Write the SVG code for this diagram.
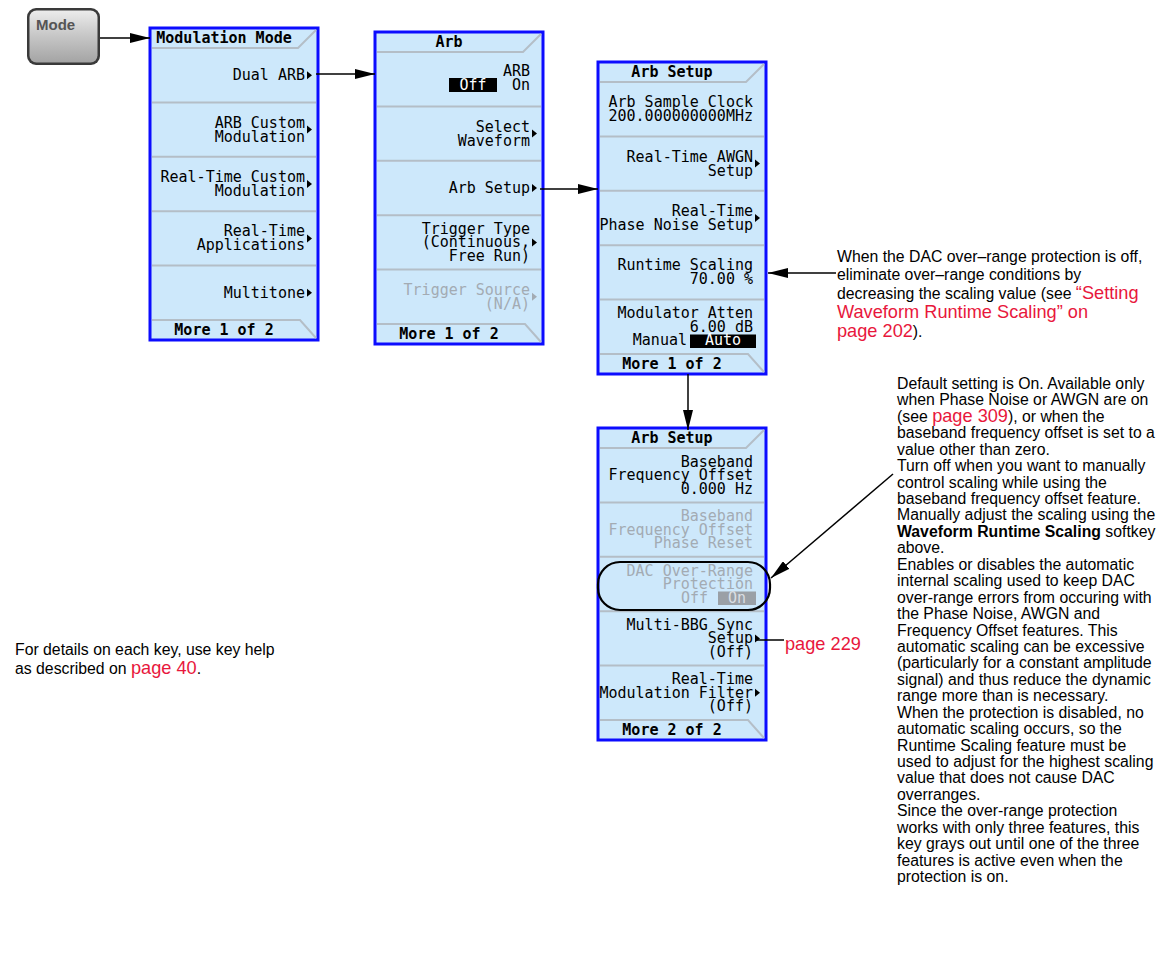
<svg xmlns="http://www.w3.org/2000/svg" width="1162" height="955" viewBox="0 0 1162 955">
<defs>
<style>
.pbg{fill:#cde8fb;stroke:#0c0cff;stroke-width:3}
.sep{stroke:#b4bec7;stroke-width:2;fill:none}
.k{font-family:"DejaVu Sans Mono","Liberation Mono",monospace;font-size:15px;fill:#000;text-anchor:end}
.kh{font-family:"DejaVu Sans Mono","Liberation Mono",monospace;font-size:15px;font-weight:bold;fill:#000;text-anchor:middle}
.g{fill:#a3abb3}
.w{fill:#fff;text-anchor:middle}
.tri{fill:#000}
.trig{fill:#a3abb3}
.note{font-family:"Liberation Sans",Arial,sans-serif;font-size:15.8px;fill:#000}
.red{fill:#e8173c;font-size:18.2px}
.conn{stroke:#000;stroke-width:1.5;fill:none}
</style>
<linearGradient id="btn" x1="0" y1="0" x2="0" y2="1">
<stop offset="0" stop-color="#ececec"/>
<stop offset="0.45" stop-color="#c9c9c9"/>
<stop offset="1" stop-color="#a4a4a4"/>
</linearGradient>
<marker id="ah" markerUnits="userSpaceOnUse" markerWidth="20" markerHeight="10" refX="20" refY="5" orient="auto">
<path d="M0,0 L20,5 L0,10 z" fill="#000"/>
</marker>
</defs>

<g id="mode-key">
<rect x="27" y="8" width="73" height="57" rx="9" fill="#3a3a3a"/>
<rect x="29.5" y="10.5" width="68" height="52" rx="7" fill="url(#btn)"/>
<text x="36" y="30" font-family="Liberation Sans,Arial,sans-serif" font-size="15" font-weight="bold" fill="#555">Mode</text>
</g>

<g id="modulation-mode" transform="translate(150,28)">
<rect class="pbg" x="0" y="0" width="168" height="312"/>
<polyline class="sep" points="2,20 148,20 166,2"/>
<line class="sep" x1="2" y1="74.4" x2="166" y2="74.4"/>
<line class="sep" x1="2" y1="128.8" x2="166" y2="128.8"/>
<line class="sep" x1="2" y1="183.2" x2="166" y2="183.2"/>
<line class="sep" x1="2" y1="237.6" x2="166" y2="237.6"/>
<polyline class="sep" points="2,292 150,292 166,310"/>
<text class="kh" x="74" y="15">Modulation Mode</text>
<text class="k" x="155" y="52.2">Dual ARB</text>
<polygon class="tri" points="157,43.2 162,47.2 157,51.2"/>
<text class="k" x="155" y="99.6">ARB Custom</text>
<text class="k" x="155" y="113.6">Modulation</text>
<polygon class="tri" points="157,97.6 162,101.6 157,105.6"/>
<text class="k" x="155" y="154">Real-Time Custom</text>
<text class="k" x="155" y="168">Modulation</text>
<polygon class="tri" points="157,152 162,156 157,160"/>
<text class="k" x="155" y="208.4">Real-Time</text>
<text class="k" x="155" y="222.4">Applications</text>
<polygon class="tri" points="157,206.4 162,210.4 157,214.4"/>
<text class="k" x="155" y="269.8">Multitone</text>
<polygon class="tri" points="157,260.8 162,264.8 157,268.8"/>
<text class="kh" x="74" y="307">More 1 of 2</text>
</g>

<g id="arb" transform="translate(375,32)">
<rect class="pbg" x="0" y="0" width="168" height="312"/>
<polyline class="sep" points="2,20 148,20 166,2"/>
<line class="sep" x1="2" y1="74.4" x2="166" y2="74.4"/>
<line class="sep" x1="2" y1="128.8" x2="166" y2="128.8"/>
<line class="sep" x1="2" y1="183.2" x2="166" y2="183.2"/>
<line class="sep" x1="2" y1="237.6" x2="166" y2="237.6"/>
<polyline class="sep" points="2,292 150,292 166,310"/>
<text class="kh" x="74" y="15">Arb</text>
<text class="k" x="155" y="43.5">ARB</text>
<rect x="74" y="46" width="48" height="14" fill="#000"/>
<text class="k w" x="98" y="57.5">Off</text>
<text class="k" x="155" y="57.5">On</text>
<text class="k" x="155" y="99.6">Select</text>
<text class="k" x="155" y="113.6">Waveform</text>
<polygon class="tri" points="157,97.6 162,101.6 157,105.6"/>
<text class="k" x="155" y="161">Arb Setup</text>
<polygon class="tri" points="157,152 162,156 157,160"/>
<text class="k" x="155" y="201.9">Trigger Type</text>
<text class="k" x="155" y="215.4">(Continuous,</text>
<text class="k" x="155" y="228.9">Free Run)</text>
<polygon class="tri" points="157,206.4 162,210.4 157,214.4"/>
<text class="k g" x="155" y="262.8">Trigger Source</text>
<text class="k g" x="155" y="276.8">(N/A)</text>
<polygon class="trig" points="157,260.8 162,264.8 157,268.8"/>
<text class="kh" x="74" y="307">More 1 of 2</text>
</g>

<g id="arb-setup-1" transform="translate(598,62)">
<rect class="pbg" x="0" y="0" width="168" height="312"/>
<polyline class="sep" points="2,20 148,20 166,2"/>
<line class="sep" x1="2" y1="74.4" x2="166" y2="74.4"/>
<line class="sep" x1="2" y1="128.8" x2="166" y2="128.8"/>
<line class="sep" x1="2" y1="183.2" x2="166" y2="183.2"/>
<line class="sep" x1="2" y1="237.6" x2="166" y2="237.6"/>
<polyline class="sep" points="2,292 150,292 166,310"/>
<text class="kh" x="74" y="15">Arb Setup</text>
<text class="k" x="155" y="45.2">Arb Sample Clock</text>
<text class="k" x="155" y="59.2">200.000000000MHz</text>
<text class="k" x="155" y="99.6">Real-Time AWGN</text>
<text class="k" x="155" y="113.6">Setup</text>
<polygon class="tri" points="157,97.6 162,101.6 157,105.6"/>
<text class="k" x="155" y="154">Real-Time</text>
<text class="k" x="155" y="168">Phase Noise Setup</text>
<polygon class="tri" points="157,152 162,156 157,160"/>
<text class="k" x="155" y="208.4">Runtime Scaling</text>
<text class="k" x="155" y="222.4">70.00 %</text>
<text class="k" x="155" y="256.3">Modulator Atten</text>
<text class="k" x="155" y="269.8">6.00 dB</text>
<text class="k" x="89" y="283.3">Manual</text>
<rect x="92" y="272.5" width="66" height="13.5" fill="#000"/>
<text class="k w" x="125" y="283.3">Auto</text>
<text class="kh" x="74" y="307">More 1 of 2</text>
</g>

<g id="arb-setup-2" transform="translate(598,428)">
<rect class="pbg" x="0" y="0" width="168" height="312"/>
<polyline class="sep" points="2,20 148,20 166,2"/>
<line class="sep" x1="2" y1="74.4" x2="166" y2="74.4"/>
<line class="sep" x1="2" y1="128.8" x2="166" y2="128.8"/>
<line class="sep" x1="2" y1="183.2" x2="166" y2="183.2"/>
<line class="sep" x1="2" y1="237.6" x2="166" y2="237.6"/>
<polyline class="sep" points="2,292 150,292 166,310"/>
<text class="kh" x="74" y="15">Arb Setup</text>
<text class="k" x="155" y="38.7">Baseband</text>
<text class="k" x="155" y="52.2">Frequency Offset</text>
<text class="k" x="155" y="65.7">0.000 Hz</text>
<text class="k g" x="155" y="93.1">Baseband</text>
<text class="k g" x="155" y="106.6">Frequency Offset</text>
<text class="k g" x="155" y="120.1">Phase Reset</text>
<text class="k g" x="155" y="147.5">DAC Over-Range</text>
<text class="k g" x="155" y="161">Protection</text>
<text class="k g" x="110" y="174.5">Off</text>
<rect x="120" y="163.5" width="38" height="13.5" fill="#9aa0a6"/>
<text class="k w" x="139" y="174.5" style="fill:#d9dee3">On</text>
<text class="k" x="155" y="201.9">Multi-BBG Sync</text>
<text class="k" x="155" y="215.4">Setup</text>
<text class="k" x="155" y="228.9">(Off)</text>
<polygon class="tri" points="157,206.4 162,210.4 157,214.4"/>
<text class="k" x="155" y="256.3">Real-Time</text>
<text class="k" x="155" y="269.8">Modulation Filter</text>
<text class="k" x="155" y="283.3">(Off)</text>
<polygon class="tri" points="157,260.8 162,264.8 157,268.8"/>
<text class="kh" x="74" y="307">More 2 of 2</text>
</g>

<g id="dac-highlight">
<rect x="598" y="562" width="172" height="48" rx="22" ry="22" fill="none" stroke="#000" stroke-width="2.2"/>
</g>

<g id="connectors">
<line class="conn" x1="100" y1="38" x2="150" y2="38" marker-end="url(#ah)"/>
<line class="conn" x1="316" y1="74" x2="375" y2="74" marker-end="url(#ah)"/>
<line class="conn" x1="540" y1="189" x2="598" y2="189" marker-end="url(#ah)"/>
<line class="conn" x1="836" y1="273" x2="768" y2="273" marker-end="url(#ah)"/>
<line class="conn" x1="688" y1="374" x2="688" y2="430" marker-end="url(#ah)"/>
<line class="conn" x1="893" y1="474" x2="771" y2="578" marker-end="url(#ah)"/>
<line class="conn" x1="757" y1="640" x2="784" y2="640"/>
</g>

<g id="note-runtime" class="note">
<text x="837" y="262">When the DAC over–range protection is off,</text>
<text x="837" y="280">eliminate over–range conditions by</text>
<text x="837" y="299">decreasing the scaling value (see <tspan class="red">“Setting</tspan></text>
<text x="837" y="318" class="red">Waveform Runtime Scaling” on</text>
<text x="837" y="337"><tspan class="red">page 202</tspan>).</text>
</g>

<g id="note-page229" class="note">
<text x="785" y="650" class="red">page 229</text>
</g>

<g id="note-keyhelp" class="note">
<text x="15" y="655">For details on each key, use key help</text>
<text x="15" y="674">as described on <tspan class="red">page 40</tspan>.</text>
</g>

<g id="note-dac" class="note">
<text x="897" y="389">Default setting is On. Available only</text>
<text x="897" y="405.4">when Phase Noise or AWGN are on</text>
<text x="897" y="421.9">(see <tspan class="red">page 309</tspan>), or when the</text>
<text x="897" y="438.3">baseband frequency offset is set to a</text>
<text x="897" y="454.7">value other than zero.</text>
<text x="897" y="471.2">Turn off when you want to manually</text>
<text x="897" y="487.6">control scaling while using the</text>
<text x="897" y="504">baseband frequency offset feature.</text>
<text x="897" y="520.4">Manually adjust the scaling using the</text>
<text x="897" y="536.9"><tspan font-weight="bold">Waveform Runtime Scaling</tspan> softkey</text>
<text x="897" y="553.3">above.</text>
<text x="897" y="569.7">Enables or disables the automatic</text>
<text x="897" y="586.2">internal scaling used to keep DAC</text>
<text x="897" y="602.6">over-range errors from occuring with</text>
<text x="897" y="619">the Phase Noise, AWGN and</text>
<text x="897" y="635.5">Frequency Offset features. This</text>
<text x="897" y="651.9">automatic scaling can be excessive</text>
<text x="897" y="668.3">(particularly for a constant amplitude</text>
<text x="897" y="684.7">signal) and thus reduce the dynamic</text>
<text x="897" y="701.2">range more than is necessary.</text>
<text x="897" y="717.6">When the protection is disabled, no</text>
<text x="897" y="734">automatic scaling occurs, so the</text>
<text x="897" y="750.5">Runtime Scaling feature must be</text>
<text x="897" y="766.9">used to adjust for the highest scaling</text>
<text x="897" y="783.3">value that does not cause DAC</text>
<text x="897" y="799.8">overranges.</text>
<text x="897" y="816.2">Since the over-range protection</text>
<text x="897" y="832.6">works with only three features, this</text>
<text x="897" y="849">key grays out until one of the three</text>
<text x="897" y="865.5">features is active even when the</text>
<text x="897" y="881.9">protection is on.</text>
</g>
</svg>
